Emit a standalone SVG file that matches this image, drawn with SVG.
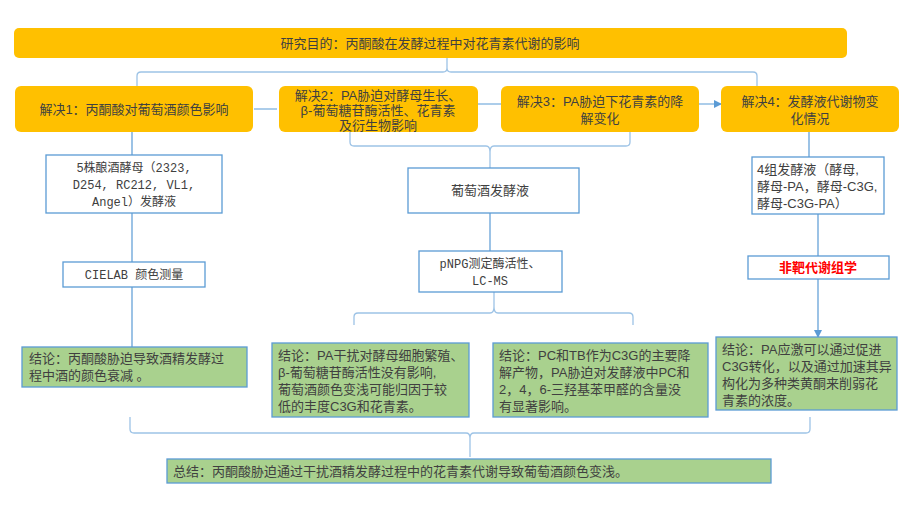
<svg xmlns="http://www.w3.org/2000/svg" width="922" height="509" viewBox="0 0 922 509">
<style>
text{font-family:"Liberation Sans","Noto Sans CJK SC",sans-serif;font-size:13px;fill:#404040}
.mono{font-family:"Liberation Mono","Noto Sans CJK SC",monospace;font-size:12px}
.o{fill:#FFC000;stroke:none}
.w{fill:#fff;stroke:#5B9BD5;stroke-width:1.3}
.g{fill:#A9D18E;stroke:#5B9BD5;stroke-width:1.3}
.c{fill:none;stroke:#5B9BD5;stroke-width:1.2}
.b{fill:none;stroke:#9DC3E6;stroke-width:1.3}
</style>
<defs><marker id="a" markerWidth="8" markerHeight="8" refX="7" refY="4" orient="auto" markerUnits="userSpaceOnUse"><path d="M0,0L8,4L0,8z" fill="#5B9BD5"/></marker></defs>
<g id="connectors">
<path class="b" d="M447,58V68Q447,72 443,72H141Q137,72 137,76V86M447,68Q447,72 451,72H753Q757,72 757,76V86"/>
<path class="c" d="M254,109H277M478,104H501M699,104H721" marker-end="url(#a)"/>
<path class="b" d="M350,132V142Q350,146 354,146H486Q490,146 490,152Q490,146 494,146H626Q630,146 630,142V132M490,152V168"/>
<path class="c" d="M132,132V155M809,132V157M132,213V262M490,213V251M818,214V256M132,287V347M818,279V337" marker-end="url(#a)"/>
<path class="b" d="M494,292V307Q494,313 490,313H358Q354,313 354,317V325M494,307Q494,313 498,313H629Q633,313 633,317V325"/>
<path class="b" d="M130,417V429Q130,433 134,433H466Q470,433 470,438Q470,433 474,433H806Q810,433 810,429V417M470,438V457"/>
</g>
<g id="n0"><rect class="o" x="14" y="28" width="833" height="30" rx="5"/><text x="430" y="48" text-anchor="middle">研究目的：丙酮酸在发酵过程中对花青素代谢的影响</text></g>
<g id="n1"><rect class="o" x="15" y="86" width="238" height="46" rx="6"/><text x="134" y="114" text-anchor="middle">解决1：丙酮酸对葡萄酒颜色影响</text></g>
<g id="n2"><rect class="o" x="279" y="86" width="199" height="46" rx="6"/><text x="378" y="100" text-anchor="middle">解决2：PA胁迫对酵母生长、</text><text x="378" y="115" text-anchor="middle">β-葡萄糖苷酶活性、花青素</text><text x="378" y="130" text-anchor="middle">及衍生物影响</text></g>
<g id="n3"><rect class="o" x="501" y="86" width="198" height="46" rx="6"/><text x="600" y="106" text-anchor="middle">解决3：PA胁迫下花青素的降</text><text x="600" y="123" text-anchor="middle">解变化</text></g>
<g id="n4"><rect class="o" x="721" y="86" width="178" height="46" rx="6"/><text x="810" y="106" text-anchor="middle">解决4：发酵液代谢物变</text><text x="810" y="123" text-anchor="middle">化情况</text></g>
<g id="n5"><rect class="w" x="46" y="155" width="176" height="58"/><text class="mono" x="134" y="172" text-anchor="middle">5株酿酒酵母（2323,</text><text class="mono" x="134" y="189" text-anchor="middle">D254, RC212, VL1,</text><text class="mono" x="134" y="206" text-anchor="middle">Angel）发酵液</text></g>
<g id="n6"><rect class="w" x="408" y="168" width="171" height="45"/><text x="490" y="195" text-anchor="middle">葡萄酒发酵液</text></g>
<g id="n7"><rect class="w" x="752" y="157" width="132" height="57"/><text x="757" y="174">4组发酵液（酵母,</text><text x="757" y="191">酵母-PA，酵母-C3G,</text><text x="757" y="208">酵母-C3G-PA）</text></g>
<g id="n8"><rect class="w" x="63" y="262" width="142" height="25"/><text class="mono" x="134" y="279" text-anchor="middle">CIELAB 颜色测量</text></g>
<g id="n9"><rect class="w" x="419" y="251" width="143" height="41"/><text class="mono" x="490" y="268" text-anchor="middle">pNPG测定酶活性、</text><text class="mono" x="490" y="285" text-anchor="middle">LC-MS</text></g>
<g id="n10"><rect class="w" x="748" y="256" width="141" height="23"/><text x="818" y="272" text-anchor="middle" style="fill:#FF0000;font-weight:bold">非靶代谢组学</text></g>
<g id="n11"><rect class="g" x="22" y="347" width="225" height="40"/><text x="29" y="363">结论：丙酮酸胁迫导致酒精发酵过</text><text x="29" y="380">程中酒的颜色衰减 。</text></g>
<g id="n12"><rect class="g" x="272" y="343" width="197" height="74"/><text x="278" y="360">结论：PA干扰对酵母细胞繁殖、</text><text x="278" y="377">β-葡萄糖苷酶活性没有影响,</text><text x="278" y="394">葡萄酒颜色变浅可能归因于较</text><text x="278" y="411">低的丰度C3G和花青素。</text></g>
<g id="n13"><rect class="g" x="493" y="343" width="215" height="74"/><text x="499" y="360">结论：PC和TB作为C3G的主要降</text><text x="499" y="377">解产物，PA胁迫对发酵液中PC和</text><text x="499" y="394">2，4，6-三羟基苯甲醛的含量没</text><text x="499" y="411">有显著影响。</text></g>
<g id="n14"><rect class="g" x="716" y="337" width="181" height="73"/><text x="722" y="354">结论：PA应激可以通过促进</text><text x="722" y="371">C3G转化，以及通过加速其异</text><text x="722" y="388">构化为多种类黄酮来削弱花</text><text x="722" y="405">青素的浓度。</text></g>
<g id="n15"><rect class="g" x="167" y="459" width="604" height="24"/><text x="173" y="476">总结：丙酮酸胁迫通过干扰酒精发酵过程中的花青素代谢导致葡萄酒颜色变浅。</text></g>
</svg>
